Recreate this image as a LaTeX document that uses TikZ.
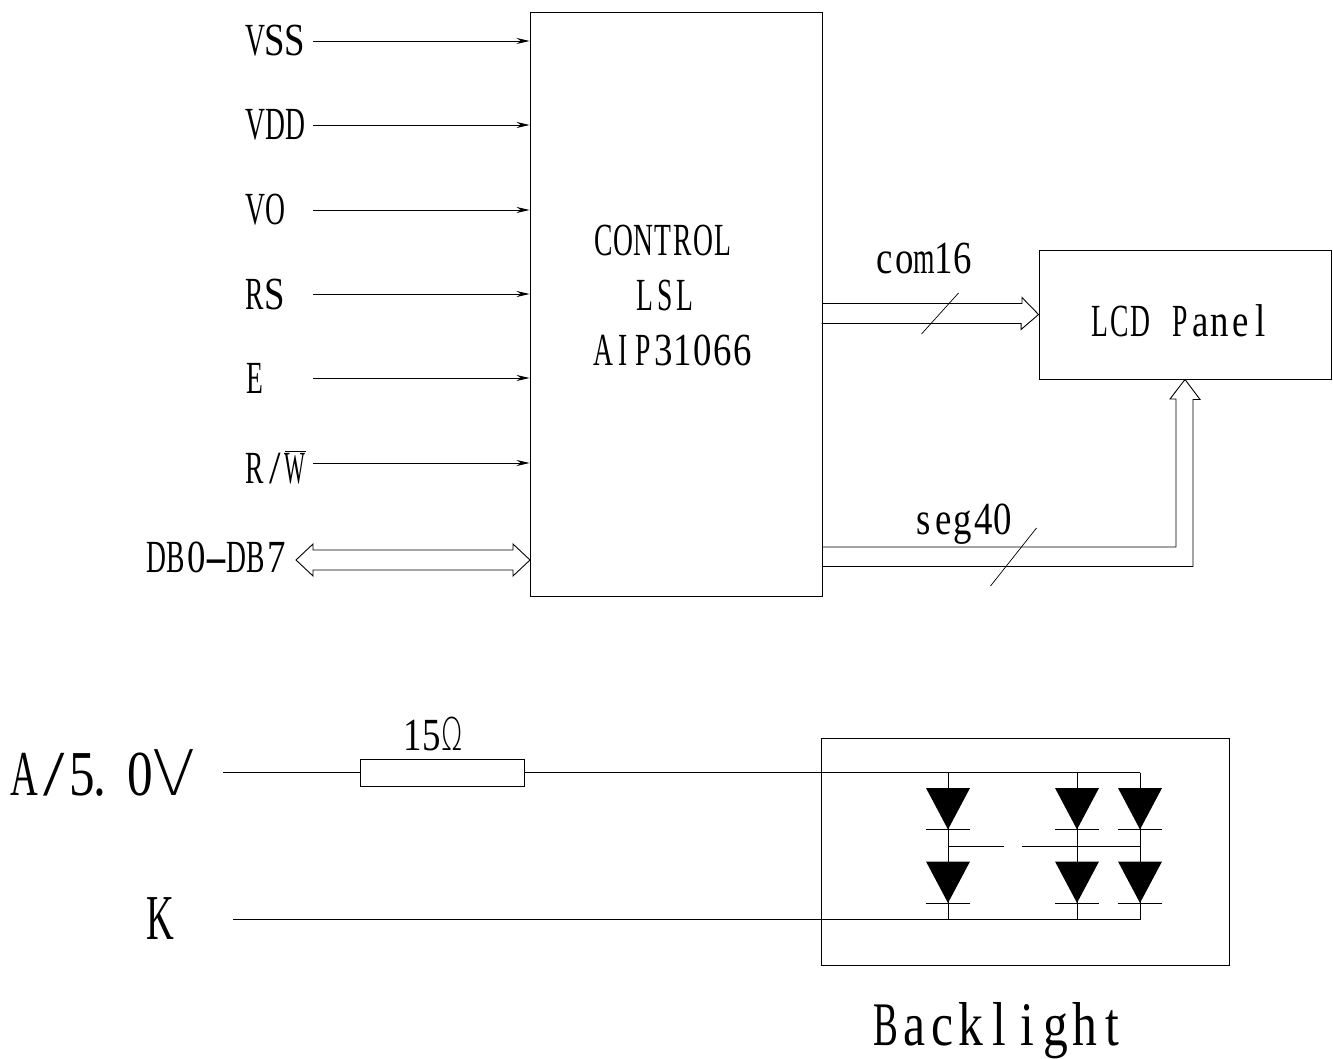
\documentclass[tikz,border=0pt]{standalone}
\usepackage{fontspec}
\usepackage{tikz}
\usetikzlibrary{arrows.meta}
\newfontfamily\cadfont[FakeStretch=0.6]{Liberation Serif}
\newfontfamily\cadlow[FakeStretch=0.8]{Liberation Serif}
\newfontfamily\cadthin{DejaVu Sans ExtraLight}
\newlength\cadpitch
\newcommand\cadnext[1]{\ifx\relax#1\else\hbox to\cadpitch{\hss#1\hss}\expandafter\cadnext\fi}
\newcommand\cadtext[2]{\setlength\cadpitch{#1}\expandafter\cadnext#2\relax}
\tikzset{
    blockbox/.style={rectangle, draw, line width=0.9pt, inner sep=0pt},
    wire/.style={draw, line width=0.9pt, line join=miter},
    sigarrow/.style={wire, -{Stealth[length=13pt,width=6pt]}},
    smalltext/.style={anchor=base west, inner sep=0pt, font=\cadfont\fontsize{46}{46}\selectfont},
    bigtext/.style={anchor=base west, inner sep=0pt, font=\cadfont\fontsize{64}{64}\selectfont},
    ledtri/.style={fill=black},
}
\begin{document}
\begin{tikzpicture}[x=1pt,y=-1pt]
        \useasboundingbox (0,0) rectangle (1333,1059);
        \node [blockbox, minimum width=292pt, minimum height=584pt] (control) at (676,304) {};
        \node [blockbox, minimum width=292pt, minimum height=129pt] (panel) at (1185,314.5) {};
        \node [blockbox, minimum width=408pt, minimum height=227pt] (backlight) at (1025,851.5) {};
        \node [blockbox, minimum width=164pt, minimum height=27pt] (resistor) at (442,772.5) {};

        \node [smalltext] (control1) at (593,256) {\cadtext{20pt}{CONTROL}};
        \node [smalltext] (control2) at (635,310) {\cadtext{20pt}{LSL}};
        \node [smalltext] (control3) at (593,365) {\cadtext{20pt}{AIP}\cadlow\cadtext{20pt}{31066}};
        \node [smalltext] (panellabel) at (1090,336) {\cadtext{20pt}{LCD{~}P}\cadlow\cadtext{20pt}{anel}};
        \node [smalltext] (comlabel) at (875,274) {\cadlow\cadtext{19.5pt}{co{\cadfont m}16}};
        \node [smalltext] (seglabel) at (913,534) {\cadlow\cadtext{20pt}{seg40}};

        \foreach \name/\txt/\ypos in {vss/{V{\cadlow S}{\cadlow S}}/41, vdd/VDD/125, vo/VO/210, rs/{R{\cadlow S}}/294, e/E/378} {
            \node [smalltext] (\name) at (245,\ypos+15) {\cadtext{20pt}{\txt}};
            \coordinate (\name start) at (313,\ypos);
            \draw [sigarrow] (\name start) -- (\name start -| control.west);
        }
        \node [smalltext] (rw) at (245,483) {\cadtext{20pt}{R{\scalebox{1.5}[1]{/}}{$\overline{\hbox{\scalebox{0.8}[1]{W}}}$}}};
        \coordinate (rw start) at (313,463);
        \draw [sigarrow] (rw start) -- (rw start -| control.west);

        \node [smalltext] (db) at (146,572) {\cadtext{20pt}{DB{\cadlow 0}{\scalebox{2.6}[1]{-}}DB{\cadlow 7}}};
        \coordinate (dbtip) at (296,560);
        \coordinate (dbend) at (530,560);
        \draw [wire] (dbtip) -- ++(17,-16) -- ++(0,6) -- ++(200,0) -- ++(0,-6) -- (dbend)
            -- ++(-17,16) -- ++(0,-6) -- ++(-200,0) -- ++(0,6) -- cycle;

        \coordinate (comstart) at (control.east |- 0,303.5);
        \draw [wire] (comstart) -- ++(199.5,0) -- ++(0,-6) -- (panel.west)
            -- ++(-17.5,15) -- ++(0,-6) -- ++(-199.5,0);
        \coordinate (comtick) at (921.5,334);
        \draw [wire, line width=0.7pt] (comtick) -- ++(37,-41);

        \coordinate (segstart) at (control.east |- 0,547);
        \coordinate (segend) at (control.east |- 0,566.5);
        \draw [wire] (segstart) -| (1176,399) -- ++(-6,0) -- (panel.south)
            -- ++(15,20) -- ++(-7,0) |- (segend);
        \coordinate (segtick) at (990.5,586);
        \draw [wire, line width=0.7pt] (segtick) -- ++(46,-58);

        \node [smalltext] (reslabel) at (403,750) {\cadlow\cadtext{19pt}{15}\hbox to 21pt{\hss\cadthin\fontsize{45}{45}\selectfont\scalebox{0.62}[1]{Ω}\hss}};
        \node [bigtext] (alabel) at (10,795) {\cadtext{29pt}{A}\cadlow\cadtext{29pt}{{\scalebox{1.5}[1]{/}}5{\kern-24pt.}0{\cadthin\fontsize{63}{63}\selectfont\kern8pt V}}};
        \node [bigtext] (klabel) at (146,939) {K};
        \node [bigtext, font=\cadfont\fontsize{62}{62}\selectfont] (backlabel) at (872,1045) {\cadtext{28.3pt}{B}\cadlow\cadtext{28.3pt}{acklight}};

        \coordinate (astart) at (223,772.5);
        \coordinate (kstart) at (233,919.5);
        \coordinate (topend) at (1140,772.5);
        \coordinate (botend) at (1140,919.5);
        \draw [wire] (astart) -- (resistor.west);
        \draw [wire] (resistor.east) -- (topend);
        \draw [wire] (kstart) -- (botend);

        \foreach \xpos/\name in {948/a, 1077/b, 1140/c} {
            \coordinate (top\name) at (\xpos,772.5);
            \coordinate (bot\name) at (\xpos,919.5);
            \draw [wire] (top\name) -- (bot\name);
            \foreach \ytop in {788, 861.5} {
                \fill [ledtri] (\xpos-22,\ytop) -- (\xpos+22,\ytop) -- (\xpos,\ytop+41.5) -- cycle;
                \draw [wire] (\xpos-22,\ytop+41.5) -- (\xpos+22,\ytop+41.5);
            }
        }
        \coordinate (linka) at (948,846);
        \coordinate (linkb) at (1004,846);
        \coordinate (linkc) at (1022,846);
        \coordinate (linkd) at (1140,846);
        \draw [wire] (linka) -- (linkb);
        \draw [wire] (linkc) -- (linkd);
    \end{tikzpicture}
\end{document}
